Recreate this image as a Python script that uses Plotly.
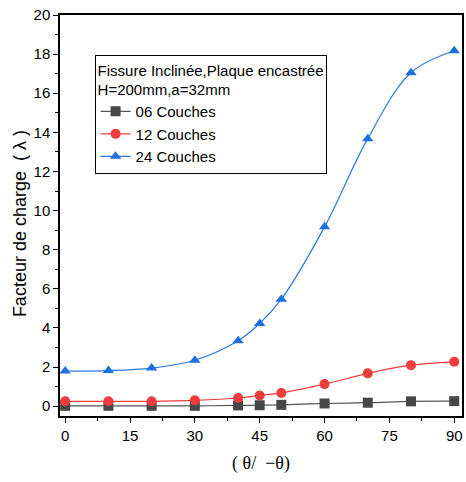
import plotly.graph_objects as go

angles = [0, 10, 20, 30, 40, 45, 50, 60, 70, 80, 90]
couches_06 = [0.02, 0.02, 0.02, 0.02, 0.04, 0.05, 0.07, 0.14, 0.18, 0.25, 0.26]
couches_12 = [0.25, 0.25, 0.25, 0.3, 0.42, 0.55, 0.68, 1.13, 1.68, 2.1, 2.27]
couches_24 = [1.8, 1.82, 1.95, 2.35, 3.35, 4.23, 5.47, 9.17, 13.68, 17.05, 18.17]
series_names = ["06 Couches", "12 Couches", "24 Couches"]
colors = ["#474747", "#f03c3c", "#1f6fe0"]
line_colors = ["#555555", "#f03c3c", "#2a78e4"]
symbols = ["square", "circle", "triangle-up"]

fig = go.Figure()
for name, vals, c, lc, s in zip(series_names, [couches_06, couches_12, couches_24], colors, line_colors, symbols):
    fig.add_trace(go.Scatter(
        x=angles, y=vals, name=name, mode="lines+markers",
        line=dict(color=lc, width=1.2, shape="spline", smoothing=1.0),
        marker=dict(symbol=s, size=10, color=c, line=dict(width=0)),
    ))

axis_common = dict(
    showline=True, linecolor="black", linewidth=1.5, mirror=True,
    ticks="outside", ticklen=5, tickwidth=1, tickcolor="black",
    showgrid=False, zeroline=False,
    tickfont=dict(family="Liberation Sans, Arial", size=15, color="black"),
)

fig.update_layout(
    width=466, height=482,
    margin=dict(l=60, r=2, t=15, b=66),
    plot_bgcolor="white", paper_bgcolor="white",
    xaxis=dict(
        range=[-1.2, 91.8], tickvals=[0, 15, 30, 45, 60, 75, 90],
        minor=dict(dtick=7.5, tick0=0, ticks="outside", ticklen=3, tickcolor="black"),
        title=dict(text="( θ/  −θ)", font=dict(family="Liberation Serif, Times New Roman", size=18, color="black"), standoff=14),
        **axis_common,
    ),
    yaxis=dict(
        range=[-0.5, 20], tickvals=[0, 2, 4, 6, 8, 10, 12, 14, 16, 18, 20],
        minor=dict(dtick=1, tick0=0, ticks="outside", ticklen=3, tickcolor="black"),
        **axis_common,
    ),
    legend=dict(
        x=0.086, y=0.9, xanchor="left", yanchor="top",
        bordercolor="black", borderwidth=1, bgcolor="white",
        font=dict(family="Liberation Sans, Arial", size=15, color="black"),
        title=dict(text="Fissure Inclinée,Plaque encastrée<br>H=200mm,a=32mm",
                   font=dict(family="Liberation Sans, Arial", size=15, color="black")),
        tracegroupgap=0, itemwidth=30,
    ),
    showlegend=True,
    annotations=[dict(
        text="Facteur de charge  ( λ )", textangle=-90,
        xref="paper", yref="paper", x=-0.099, y=0.479,
        xanchor="center", yanchor="middle", showarrow=False,
        font=dict(family="Liberation Sans, Arial", size=18, color="black"),
    )],
)

fig.write_html("out.html")
